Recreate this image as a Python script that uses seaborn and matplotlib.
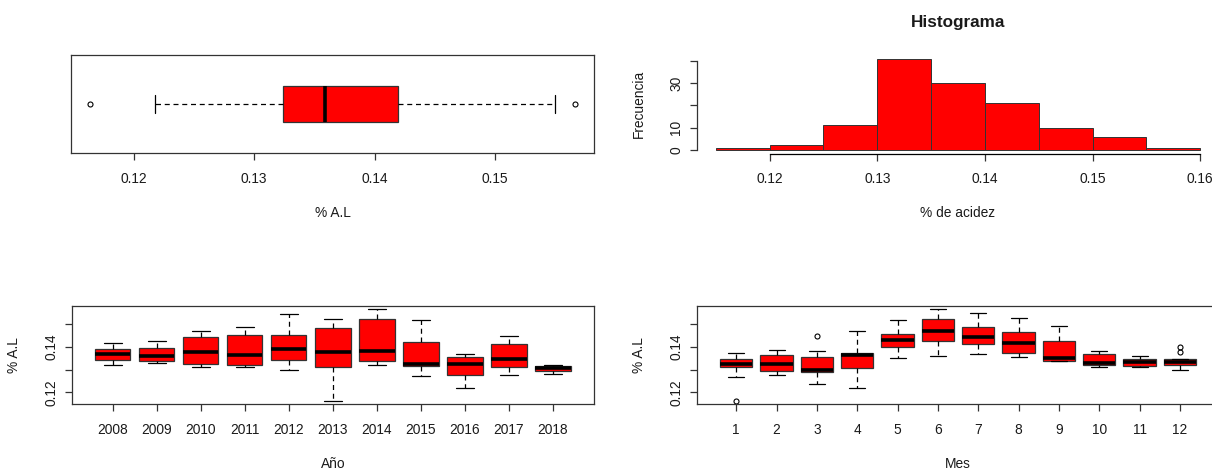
import numpy as np
import matplotlib
matplotlib.use("Agg")
import matplotlib.pyplot as plt
import seaborn as sns

# ---- summary of % A.L (acidez) for all samples ----
all_low = 0.1218
all_q1 = 0.1324
all_med = 0.1359
all_q3 = 0.1419
all_high = 0.1550
all_fliers = [0.1164, 0.1566]

# ---- histogram of % de acidez ----
hist_edges = [0.115, 0.120, 0.125, 0.130, 0.135, 0.140, 0.145, 0.150, 0.155, 0.160]
hist_counts = [1, 2, 11, 41, 30, 21, 10, 6, 1]

# ---- by year ----
years = [2008, 2009, 2010, 2011, 2012, 2013, 2014, 2015, 2016, 2017, 2018]
year_low = [0.1322, 0.1328, 0.1312, 0.1312, 0.1300, 0.1164, 0.1322, 0.1272, 0.1218, 0.1278, 0.1282]
year_q1 = [0.1344, 0.1338, 0.1326, 0.1322, 0.1344, 0.1312, 0.1337, 0.1316, 0.1276, 0.1312, 0.1296]
year_med = [0.1369, 0.1359, 0.1378, 0.1365, 0.1391, 0.1378, 0.1384, 0.1324, 0.1326, 0.1346, 0.1306]
year_q3 = [0.1391, 0.1396, 0.1446, 0.1451, 0.1451, 0.1482, 0.1524, 0.1424, 0.1356, 0.1412, 0.1315]
year_high = [0.1419, 0.1428, 0.1469, 0.1488, 0.1544, 0.1524, 0.1566, 0.1519, 0.1369, 0.1447, 0.1322]
year_fliers = [[], [], [], [], [], [], [], [], [], [], []]

# ---- by month ----
months = [1, 2, 3, 4, 5, 6, 7, 8, 9, 10, 11, 12]
month_low = [0.1268, 0.1276, 0.1235, 0.1218, 0.1350, 0.1359, 0.1369, 0.1354, 0.1337, 0.1312, 0.1312, 0.1300]
month_q1 = [0.1312, 0.1294, 0.1290, 0.1307, 0.1400, 0.1428, 0.1413, 0.1374, 0.1337, 0.1321, 0.1316, 0.1321]
month_med = [0.1324, 0.1324, 0.1300, 0.1366, 0.1432, 0.1471, 0.1444, 0.1419, 0.1350, 0.1331, 0.1335, 0.1334]
month_q3 = [0.1346, 0.1365, 0.1356, 0.1374, 0.1456, 0.1524, 0.1487, 0.1465, 0.1428, 0.1369, 0.1346, 0.1346]
month_high = [0.1374, 0.1387, 0.1382, 0.1469, 0.1519, 0.1566, 0.1551, 0.1529, 0.1493, 0.1382, 0.1359, 0.1346]
month_fliers = [[0.1164], [], [0.1447], [], [], [], [], [], [], [], [], [0.1400, 0.1380]]

# ---- style ----
sns.set_style("white")
plt.rcParams["font.family"] = ["Liberation Sans", "DejaVu Sans"]
TXT = "#1a1a1a"
EDGE = "#333333"
FS = 9.9
plt.rcParams.update({
    "axes.edgecolor": EDGE,
    "axes.linewidth": 0.9,
    "xtick.color": EDGE,
    "ytick.color": EDGE,
    "xtick.labelcolor": TXT,
    "ytick.labelcolor": TXT,
    "xtick.major.size": 5,
    "ytick.major.size": 5,
    "xtick.major.width": 0.9,
    "ytick.major.width": 0.9,
    "xtick.bottom": True,
    "ytick.left": True,
    "xtick.labelsize": FS,
    "ytick.labelsize": FS,
})

W, H = 1212, 470
fig = plt.figure(figsize=(W / 100, H / 100), dpi=100, facecolor="white")


def rect(x0, y0, x1, y1):
    return [x0 / W, 1 - y1 / H, (x1 - x0) / W, (y1 - y0) / H]


def r_range(lo, hi):
    d = (hi - lo) * 0.04
    return lo - d, hi + d


def make_stats(low, q1, med, q3, high, fliers):
    return [dict(whislo=a, q1=b, med=c, q3=d, whishi=e, fliers=f)
            for a, b, c, d, e, f in zip(low, q1, med, q3, high, fliers)]


box_kw = dict(
    patch_artist=True,
    boxprops=dict(facecolor="#ff0000", edgecolor=EDGE, linewidth=0.9),
    medianprops=dict(color="black", linewidth=2.6, solid_capstyle="butt"),
    whiskerprops=dict(color="black", linewidth=0.9, linestyle=(0, (4, 3))),
    capprops=dict(color="black", linewidth=0.9),
    flierprops=dict(marker="o", markerfacecolor="none", markeredgecolor="black",
                    markersize=3.6, markeredgewidth=0.8),
)


def set_xlabel(ax, text, h_px):
    ax.set_xlabel(text, fontsize=FS, color=TXT, va="center")
    ax.xaxis.set_label_coords(0.5, -59.5 / h_px)


def set_ylabel(ax, text, w_px):
    ax.set_ylabel(text, fontsize=FS, color=TXT, va="center")
    ax.yaxis.set_label_coords(-57.5 / w_px, 0.5)


# ---- top left: horizontal boxplot ----
ax1 = fig.add_axes(rect(71, 55, 594, 153.3))
st = make_stats([all_low], [all_q1], [all_med], [all_q3], [all_high], [all_fliers])
try:
    ax1.bxp(st, positions=[1], widths=0.4, orientation="horizontal", **box_kw)
except TypeError:
    ax1.bxp(st, positions=[1], widths=0.4, vert=False, **box_kw)
vals = [all_low, all_high] + all_fliers
ax1.set_xlim(*r_range(min(vals), max(vals)))
ax1.set_ylim(*r_range(0.5, 1.5))
ax1.set_yticks([])
ax1.set_xticks([0.12, 0.13, 0.14, 0.15])
ax1.set_xticklabels(["0.12", "0.13", "0.14", "0.15"])
ax1.tick_params(axis="x", pad=8.5)
set_xlabel(ax1, "% A.L", 98.3)

# ---- top right: histogram ----
ax2 = fig.add_axes(rect(696.5, 55, 1219.5, 153.6))
centers = [(a + b) / 2 for a, b in zip(hist_edges[:-1], hist_edges[1:])]
sns.histplot(x=centers, weights=hist_counts, bins=hist_edges, ax=ax2,
             color="#ff0000", edgecolor=EDGE, linewidth=0.7, alpha=1)
ax2.set_xlim(*r_range(hist_edges[0], hist_edges[-1]))
ax2.set_ylim(*r_range(0, max(hist_counts)))
for s in ["top", "right"]:
    ax2.spines[s].set_visible(False)
ax2.spines["left"].set_bounds(0, 40)
ax2.spines["bottom"].set_bounds(0.12, 0.16)
ax2.spines["left"].set_color(EDGE)
ax2.spines["bottom"].set_color("black")
ax2.set_xticks([0.12, 0.13, 0.14, 0.15, 0.16])
ax2.set_xticklabels(["0.12", "0.13", "0.14", "0.15", "0.16"])
ax2.set_yticks([0, 10, 20, 30, 40])
ax2.set_yticklabels(["0", "10", "", "30", ""], rotation=90, va="center")
ax2.tick_params(axis="x", pad=8.5)
ax2.tick_params(axis="y", pad=4.5)
set_xlabel(ax2, "% de acidez", 98.6)
set_ylabel(ax2, "Frecuencia", 523)
ax2.text(0.5, 1 + 33 / 98.6, "Histograma", transform=ax2.transAxes,
         ha="center", va="center", fontsize=12.3, fontweight="bold", color=TXT)


def grouped_box(ax, labels, low, q1, med, q3, high, fliers, xlabel):
    stats = make_stats(low, q1, med, q3, high, fliers)
    pos = list(range(1, len(labels) + 1))
    ax.bxp(stats, positions=pos, widths=0.8, **box_kw)
    ax.set_xlim(*r_range(0.5, len(labels) + 0.5))
    allv = low + high + [v for f in fliers for v in f]
    ax.set_ylim(*r_range(min(allv), max(allv)))
    ax.set_xticks(pos)
    ax.set_xticklabels([str(v) for v in labels])
    ax.set_yticks([0.12, 0.13, 0.14, 0.15])
    ax.set_yticklabels(["0.12", "", "0.14", ""], rotation=90, va="center")
    ax.tick_params(axis="x", pad=8.5)
    ax.tick_params(axis="y", pad=4.5)
    set_xlabel(ax, xlabel, 98.5)
    set_ylabel(ax, "% A.L", 523)


# ---- bottom left: by year ----
ax3 = fig.add_axes(rect(71.5, 305.7, 594.3, 404.2))
grouped_box(ax3, years, year_low, year_q1, year_med, year_q3, year_high,
            year_fliers, "Año")

# ---- bottom right: by month ----
ax4 = fig.add_axes(rect(696.7, 305.7, 1219.5, 404.2))
grouped_box(ax4, months, month_low, month_q1, month_med, month_q3, month_high,
            month_fliers, "Mes")

fig.savefig("out.png", dpi=100, facecolor="white")
